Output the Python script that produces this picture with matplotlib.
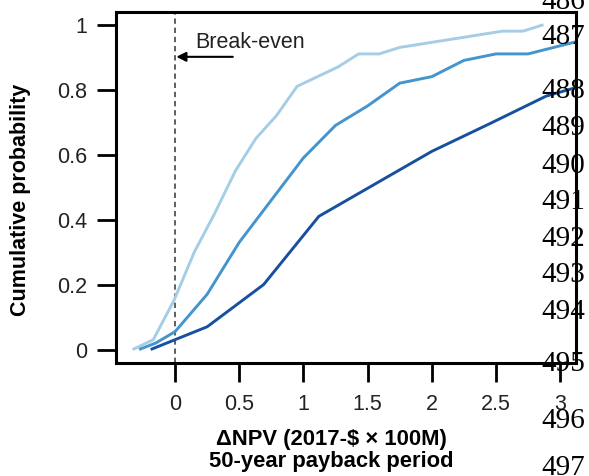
import matplotlib
matplotlib.use("Agg")
import matplotlib.pyplot as plt

# cumulative probability of delta NPV, three scenarios (light, medium, dark blue)
x_light = [-0.33, -0.17, -0.01, 0.15, 0.31, 0.47, 0.63, 0.79, 0.95, 1.11, 1.27,
           1.43, 1.59, 1.75, 1.91, 2.07, 2.23, 2.39, 2.55, 2.71, 2.87]
y_light = [0.0, 0.03, 0.15, 0.30, 0.42, 0.55, 0.65, 0.72, 0.81, 0.84, 0.87,
           0.91, 0.91, 0.93, 0.94, 0.95, 0.96, 0.97, 0.98, 0.98, 1.0]

x_med = [-0.28, -0.15, 0.0, 0.25, 0.5, 0.75, 1.0, 1.25, 1.5, 1.75, 2.0,
         2.25, 2.5, 2.75, 3.0, 3.25]
y_med = [0.0, 0.02, 0.055, 0.17, 0.33, 0.46, 0.59, 0.69, 0.75, 0.82, 0.84,
         0.89, 0.91, 0.91, 0.935, 0.96]

x_dark = [-0.19, 0.25, 0.69, 1.12, 1.56, 2.0, 2.45, 2.89, 3.33]
y_dark = [0.0, 0.07, 0.2, 0.41, 0.51, 0.61, 0.695, 0.78, 0.83]

xticks = [0, 0.5, 1, 1.5, 2, 2.5, 3]
xtick_labels = ["0", "0.5", "1", "1.5", "2", "2.5", "3"]
yticks = [0, 0.2, 0.4, 0.6, 0.8, 1]
ytick_labels = ["0", "0.2", "0.4", "0.6", "0.8", "1"]

# page line numbers that show on the right of the figure
line_numbers = ["486", "487", "488", "489", "490", "491", "492", "493", "494", "495", "496", "497"]
line_number_y = [2, 37, 91, 128, 166, 202, 239, 275, 312, 364, 421, 468]

plt.rcParams["font.family"] = ["Liberation Sans", "DejaVu Sans"]

fig = plt.figure(figsize=(5.89, 4.76), dpi=100)
ax = fig.add_axes([116 / 589, 1 - 363 / 476, 460 / 589, 351 / 476])

ax.plot(x_light, y_light, color="#a6cde6", lw=2.1, solid_capstyle="butt", zorder=3)
ax.plot(x_med, y_med, color="#4394cf", lw=2.1, solid_capstyle="butt", zorder=3)
ax.plot(x_dark, y_dark, color="#16509f", lw=2.1, solid_capstyle="butt", zorder=3)

ax.axvline(0, color="#333333", lw=1.1, linestyle=(0, (3.5, 2.5)), zorder=2)
ax.annotate("", xy=(0.01, 0.901), xytext=(0.45, 0.901),
            arrowprops=dict(arrowstyle="-|>", color="black", lw=1.5,
                            mutation_scale=14, shrinkA=0, shrinkB=0))
ax.text(0.156, 0.944, "Break-even", fontsize=15.5, va="center", ha="left",
        color="#222222")

ax.set_xlim(-0.46, 3.123)
ax.set_ylim(-0.0415, 1.039)
ax.set_xticks(xticks)
ax.set_xticklabels(xtick_labels)
ax.set_yticks(yticks)
ax.set_yticklabels(ytick_labels)
ax.tick_params(axis="both", direction="out", length=13.5, width=2.0,
               labelsize=15.5, labelcolor="#222222")
ax.tick_params(axis="y", pad=7)
ax.tick_params(axis="x", pad=9)
for s in ax.spines.values():
    s.set_linewidth(2.2)

fig.text(21 / 589, 1 - 200 / 476, "Cumulative probability", rotation=90,
         fontsize=15.5, fontweight="bold", ha="center", va="center")
fig.text(331 / 589, 1 - 440 / 476, "\u0394NPV (2017-$ \u00d7 100M)",
         fontsize=15.8, fontweight="bold", ha="center", va="center")
fig.text(331 / 589, 1 - 462 / 476, "50-year payback period",
         fontsize=15.8, fontweight="bold", ha="center", va="center")

for lab, yp in zip(line_numbers, line_number_y):
    fig.text(541 / 589, 1 - yp / 476, lab, fontsize=21, family="Liberation Serif",
             ha="left", va="center")

fig.savefig("out.png", dpi=100)
